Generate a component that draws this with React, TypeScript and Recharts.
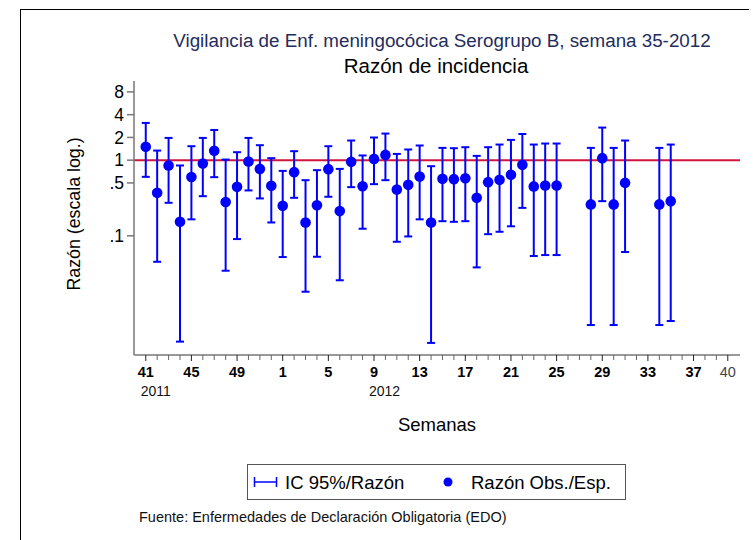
import { ComposedChart, Scatter, ErrorBar, XAxis, YAxis, ReferenceLine } from 'recharts'

// semanas vigiladas: 41/2011 ... 35/2012
const semanas = [
  '41/2011', '42/2011', '43/2011', '44/2011', '45/2011', '46/2011', '47/2011', '48/2011',
  '49/2011', '50/2011', '51/2011', '52/2011',
  '1/2012', '2/2012', '3/2012', '4/2012', '5/2012', '6/2012', '7/2012', '8/2012', '9/2012',
  '10/2012', '11/2012', '12/2012', '13/2012', '14/2012', '15/2012', '16/2012', '17/2012',
  '18/2012', '19/2012', '20/2012', '21/2012', '22/2012', '23/2012', '24/2012', '25/2012',
  '26/2012', '27/2012', '28/2012', '29/2012', '30/2012', '31/2012', '32/2012', '33/2012',
  '34/2012', '35/2012',
]

// razón observados / esperados
const razon = [
  1.5, 0.37, 0.85, 0.153, 0.6, 0.905, 1.33, 0.28, 0.444, 0.96,
  0.767, 0.458, 0.249, 0.694, 0.15, 0.254, 0.761, 0.212, 0.95, 0.453,
  1.04, 1.175, 0.41, 0.472, 0.609, 0.15, 0.566, 0.561, 0.578, 0.318,
  0.512, 0.549, 0.643, 0.867, 0.45, 0.463, 0.463, null, null, 0.26,
  1.063, 0.26, 0.501, null, null, 0.26, 0.287,
]

// IC 95%
const icInf = [
  0.602, 0.0453, 0.273, 0.00398, 0.165, 0.334, 0.596, 0.0345, 0.0905, 0.398,
  0.312, 0.15, 0.0523, 0.318, 0.0182, 0.0528, 0.328, 0.0258, 0.44, 0.124,
  0.482, 0.544, 0.0833, 0.098, 0.165, 0.00383, 0.156, 0.153, 0.156, 0.0382,
  0.105, 0.113, 0.1335, 0.234, 0.054, 0.0556, 0.0556, null, null, 0.0066,
  0.287, 0.0066, 0.061, null, null, 0.0066, 0.00746,
]
const icSup = [
  3.11, 1.34, 1.97, 0.851, 1.53, 1.97, 2.51, 1.02, 1.275, 1.97,
  1.578, 1.063, 0.722, 1.315, 0.544, 0.738, 1.53, 0.767, 1.82, 1.154,
  1.995, 2.25, 1.21, 1.385, 1.564, 0.833, 1.454, 1.44, 1.485, 1.14,
  1.485, 1.61, 1.855, 2.22, 1.61, 1.66, 1.66, null, null, 1.454,
  2.7, 1.454, 1.82, null, null, 1.454, 1.61,
]

// eje x: 52 semanas (41/2011 .. 40/2012), etiqueta cada 4
const xTickCount = 52
const xLabelPos = [0, 4, 8, 12, 16, 20, 24, 28, 32, 36, 40, 44, 48, 51]
const xLabels = ['41', '45', '49', '1', '5', '9', '13', '17', '21', '25', '29', '33', '37', '40']
const yearPos = [0, 20]
const yearLabels = ['2011', '2012']

const yTicks = [0.1, 0.5, 1, 2, 4, 8]
const yLabels = ['.1', '.5', '1', '2', '4', '8']

const FONT = '"Liberation Sans", Arial, Helvetica, sans-serif'
const BLUE = '#0000ff'

const data = semanas
  .map((s, i) => ({
    x: i,
    semana: s,
    razon: razon[i],
    err: razon[i] == null ? null : [razon[i]! - icInf[i]!, icSup[i]! - razon[i]!],
  }))
  .filter((d) => d.razon != null)

const xTicks = Array.from({ length: xTickCount }, (_, i) => i)

function WeekTick(props: any) {
  const { x, y, payload } = props
  const i = payload.value
  const li = xLabelPos.indexOf(i)
  const yi = yearPos.indexOf(i)
  const last = i === 51
  return (
    <g>
      <line x1={x} x2={x} y1={y} y2={y + (li >= 0 ? 6 : 5)} stroke={li >= 0 ? '#222' : '#666'} strokeWidth={1} />
      {li >= 0 && (
        <text
          x={x}
          y={y + 22}
          textAnchor="middle"
          fontSize={14.5}
          fontWeight={last ? 'normal' : 'bold'}
          fill={last ? '#444' : '#000'}
          fontFamily={FONT}
        >
          {xLabels[li]}
        </text>
      )}
      {yi >= 0 && (
        <text x={x - 5} y={y + 41} textAnchor="start" fontSize={14} fill="#111" fontFamily={FONT}>
          {yearLabels[yi]}
        </text>
      )}
    </g>
  )
}

function Dot(props: any) {
  return <circle cx={props.cx} cy={props.cy} r={5.3} fill={BLUE} />
}

export default function App() {
  return (
    <div style={{ position: 'absolute', left: 0, top: 0, width: 753, height: 540, background: '#fff', fontFamily: FONT }}>
      <div style={{ position: 'absolute', left: 20, top: 9, width: 728, height: 531, borderTop: '1.5px solid #000', borderLeft: '1.5px solid #000' }} />
      <ComposedChart width={753} height={540} margin={{ top: 81, right: 13, bottom: 145, left: 0 }} data={data}>
        <XAxis
          dataKey="x"
          type="number"
          domain={[-1.03, 52.07]}
          allowDataOverflow
          ticks={xTicks}
          interval={0}
          tickSize={0}
          tickMargin={0}
          tickLine={false}
          tick={<WeekTick />}
          height={40}
          stroke="#777"
          strokeWidth={1.5}
        />
        <YAxis
          dataKey="razon"
          type="number"
          scale="log"
          domain={[0.00265, 11.15]}
          allowDataOverflow
          ticks={yTicks}
          interval={0}
          tickFormatter={(v: number) => yLabels[yTicks.indexOf(v)] ?? ''}
          width={134}
          tickSize={7}
          tickMargin={3}
          stroke="#777"
          strokeWidth={1.5}
          tick={{ fontSize: 17.5, fill: '#000', fontFamily: FONT }}
        />
        <ReferenceLine y={1} stroke="#d0143c" strokeWidth={2} />
        <Scatter dataKey="razon" fill={BLUE} shape={<Dot />} isAnimationActive={false}>
          <ErrorBar dataKey="err" direction="y" width={4} stroke={BLUE} strokeWidth={2} isAnimationActive={false} />
        </Scatter>
      </ComposedChart>

      <svg width={753} height={540} style={{ position: 'absolute', left: 0, top: 0, pointerEvents: 'none' }}>
        <text x={442} y={47} textAnchor="middle" fontSize={18.8} fill="#1f2d5c" fontFamily={FONT}>
          Vigilancia de Enf. meningocócica Serogrupo B, semana 35-2012
        </text>
        <text x={436} y={73} textAnchor="middle" fontSize={20.5} fill="#000" fontFamily={FONT}>
          Razón de incidencia
        </text>
        <text
          x={0}
          y={0}
          transform="translate(80 214) rotate(-90)"
          textAnchor="middle"
          fontSize={17.8}
          fill="#000"
          fontFamily={FONT}
        >
          Razón (escala log.)
        </text>
        <text x={437} y={431} textAnchor="middle" fontSize={18.5} fill="#000" fontFamily={FONT}>
          Semanas
        </text>

        <rect x={247.5} y={464.5} width={378} height={35} fill="#fff" stroke="#555" strokeWidth={1} />
        <line x1={254} x2={277} y1={482} y2={482} stroke={BLUE} strokeWidth={1.5} />
        <line x1={254.5} x2={254.5} y1={477} y2={487} stroke={BLUE} strokeWidth={1.5} />
        <line x1={276.5} x2={276.5} y1={477} y2={487} stroke={BLUE} strokeWidth={1.5} />
        <text x={285} y={489} fontSize={18.5} fill="#000" fontFamily={FONT}>
          IC 95%/Razón
        </text>
        <circle cx={448} cy={482} r={4.5} fill={BLUE} />
        <text x={471} y={489} fontSize={18.5} fill="#000" fontFamily={FONT}>
          Razón Obs./Esp.
        </text>

        <text x={139} y={522} fontSize={14.5} fill="#111" fontFamily={FONT}>
          Fuente: Enfermedades de Declaración Obligatoria (EDO)
        </text>
      </svg>
    </div>
  )
}
